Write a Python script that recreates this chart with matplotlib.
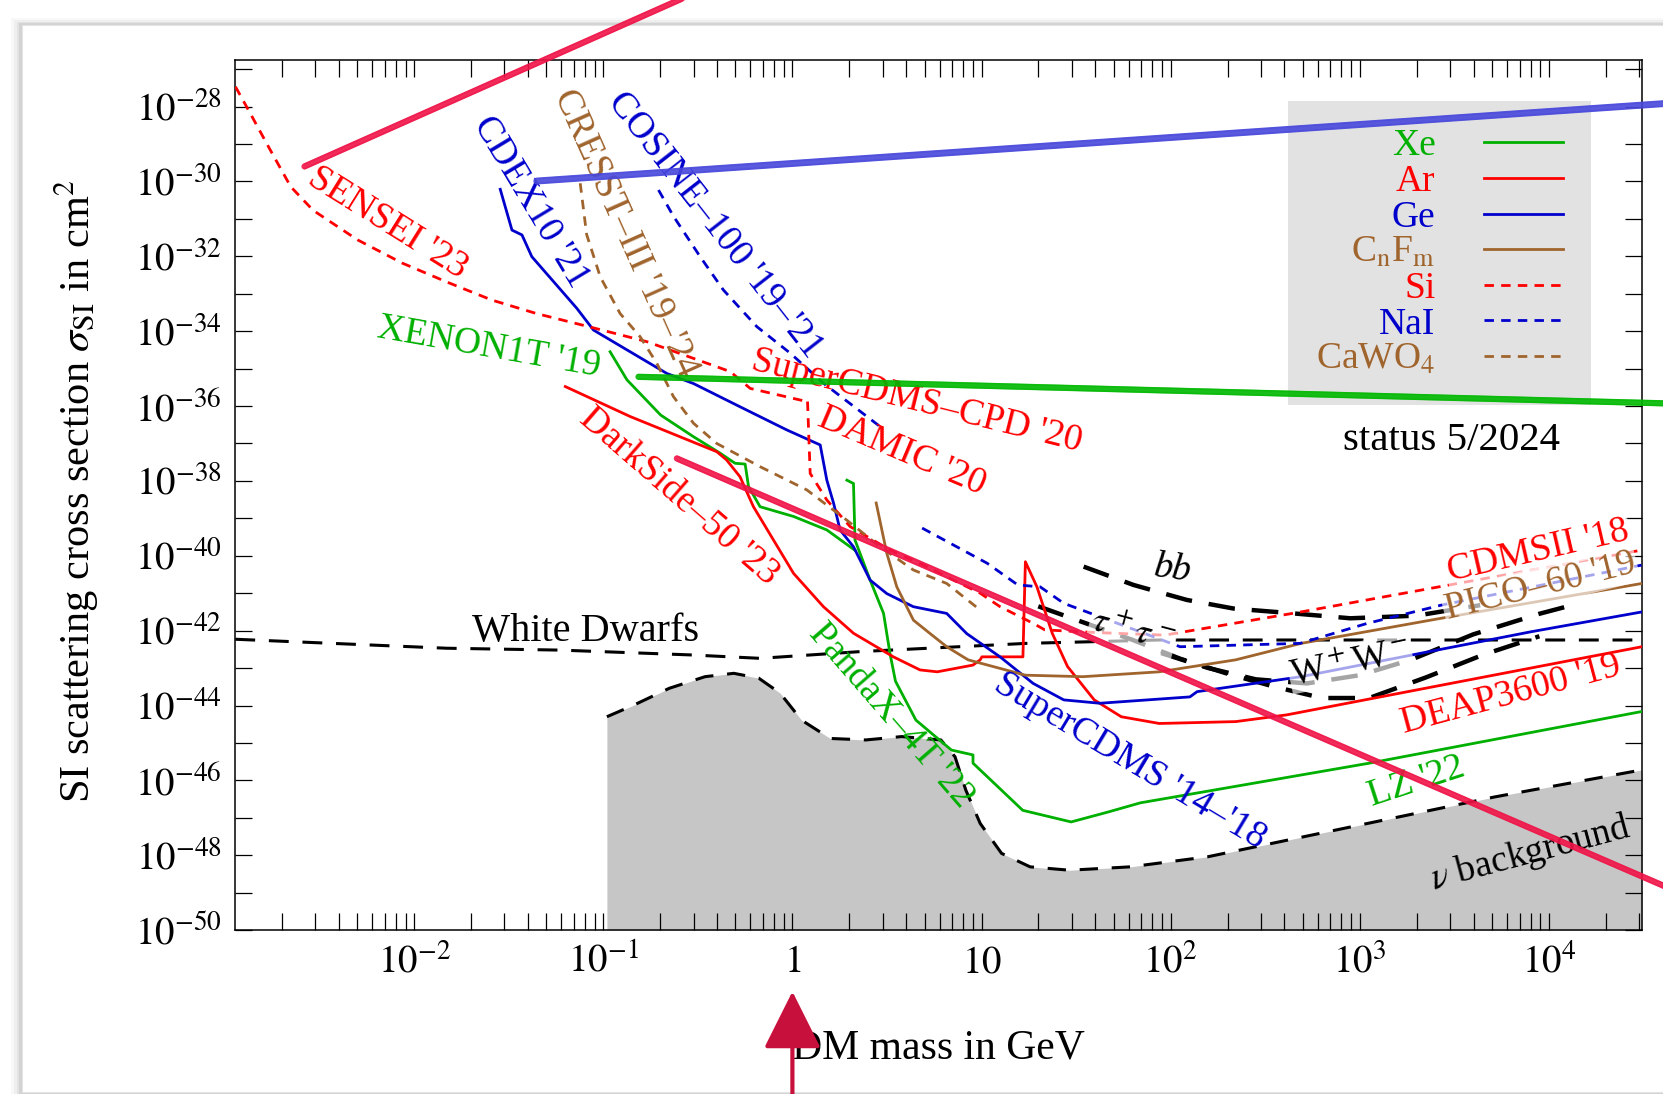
import numpy as np
import matplotlib
matplotlib.use("Agg")
import matplotlib.pyplot as plt
from matplotlib.patches import Rectangle
from matplotlib.ticker import FixedLocator, LogLocator, NullLocator

plt.rcParams['font.family'] = ['Liberation Serif', 'DejaVu Serif']
plt.rcParams['mathtext.fontset'] = 'stix'

# colours (gnuplot style)
C_XE = '#00b000'
C_AR = '#ff0000'
C_GE = '#0000cc'
C_CF = '#a0642d'
C_HAND = '#f01448'
C_ARROW = '#c8103c'

sensei_logm = [-2.945, -2.866, -2.771, -2.653, -2.535, -2.30, -2.064, -1.826, -1.589,
               -1.353, -1.046, -0.770, -0.329, -0.223, 0.076]
sensei_logs = [-27.47, -28.19, -29.07, -30.14, -30.77, -31.56, -32.18, -32.69, -33.17,
               -33.53, -33.92, -34.28, -35.08, -35.53, -35.88]

damic_logm = [0.080, 0.094, 0.182, 0.305, 0.517, 0.711, 0.851, 0.993, 1.098, 1.275,
              1.335, 1.60, 1.969, 2.69, 3.43, 4.49]
damic_logs = [-35.88, -37.80, -38.51, -39.22, -39.85, -40.29, -40.65, -41.0, -41.36, -41.81,
              -41.98, -42.05, -42.12, -41.50, -40.82, -39.85]

ge_logm = [-1.545, -1.483, -1.430, -1.378, -1.140, -1.052, -0.875, -0.664, -0.523, -0.277,
           -0.029, 0.147, 0.182, 0.218, 0.252, 0.323, 0.411, 0.499, 0.639, 0.816, 0.922,
           1.098, 1.273, 1.435, 1.626, 2.102, 2.14, 2.69, 3.317, 3.906, 4.492]
ge_logs = [-30.21, -31.30, -31.43, -32.01, -33.39, -33.97, -34.50, -35.13, -35.40, -36.02,
           -36.64, -37.04, -37.98, -38.60, -39.31, -39.76, -40.65, -41.01, -41.36, -41.54, -42.08,
           -42.70, -43.41, -43.85, -43.94, -43.77, -43.63, -43.23, -42.61, -42.03, -41.50]

cresst_logm = [-1.122, -1.088, -1.016, -0.911, -0.805, -0.717, -0.629, -0.523, -0.40, -0.171,
               0.076, 0.288, 0.464, 0.64, 0.816, 0.993]
cresst_logs = [-30.05, -31.42, -32.55, -33.53, -34.15, -34.86, -35.75, -36.46, -37.0, -37.62,
               -38.24, -39.05, -39.76, -40.38, -40.74, -41.45]

cosine_logm = [-0.708, -0.629, -0.488, -0.365, -0.188, -0.011, 0.164, 0.464]
cosine_logs = [-30.23, -30.93, -32.01, -32.90, -33.88, -34.59, -35.39, -36.55]

nai_logm = [0.686, 1.03, 1.192, 1.31, 1.435, 1.626, 2.05, 2.685, 3.037, 3.43, 4.49]
nai_logs = [-39.26, -40.20, -40.78, -40.83, -41.27, -41.63, -42.43, -42.34, -41.81, -41.32, -40.25]

xenon1t_logm = [-0.964, -0.875, -0.697, -0.523, -0.382, -0.303, -0.25, -0.232, -0.171,
                0.006, 0.182, 0.305, 0.33]
xenon1t_logs = [-34.55, -35.30, -36.24, -36.82, -37.26, -37.53, -37.55, -38.15, -38.69,
                -38.95, -39.31, -39.76, -39.85]

pandax_logm = [0.288, 0.323, 0.331, 0.411, 0.482, 0.516, 0.545, 0.653, 0.841, 0.955, 0.955,
               1.218, 1.474, 1.673, 1.84, 3.051, 4.492]
pandax_logs = [-37.98, -38.07, -39.58, -40.65, -41.54, -42.61, -43.35, -44.39, -45.19, -45.32,
               -45.54, -46.80, -47.11, -46.84, -46.60, -45.54, -44.16]

ar_logm = [-1.201, -0.858, -0.40, -0.348, -0.277, -0.206, -0.10, 0.006, 0.164, 0.323, 0.534,
           0.675, 0.766, 0.955, 0.993, 1.002, 1.219, 1.232, 1.293, 1.374, 1.455, 1.596, 1.739,
           1.94, 2.344, 2.614, 4.492]
ar_logs = [-35.48, -36.28, -37.22, -37.44, -37.89, -38.69, -39.58, -40.47, -41.36, -42.07, -42.70,
           -43.05, -43.10, -42.92, -42.78, -42.70, -42.70, -40.16, -40.83, -42.07, -42.96, -43.85,
           -44.30, -44.48, -44.43, -44.25, -42.43]

pico_logm = [0.443, 0.499, 0.552, 0.64, 0.726, 0.816, 0.929, 1.232, 1.536, 1.94, 2.344, 2.69,
             3.43, 4.492]
pico_logs = [-38.59, -39.93, -40.83, -41.72, -42.07, -42.43, -42.78, -43.19, -43.23, -43.10,
             -42.78, -42.34, -41.67, -40.74]

wd_logm = [-2.946, -1.829, -1.228, -0.531, -0.171, 0.358, 1.239, 1.94, 4.492]
wd_logs = [-42.23, -42.47, -42.52, -42.65, -42.74, -42.56, -42.34, -42.25, -42.25]

nu_logm = [-0.981, -0.839, -0.651, -0.462, -0.31, -0.178, -0.065, 0.048, 0.20, 0.388, 0.578,
           0.785, 0.86, 0.917, 0.993, 1.106, 1.257, 1.465, 1.786, 2.197, 2.956, 3.716, 4.492]
nu_logs = [-44.30, -43.99, -43.54, -43.23, -43.14, -43.27, -43.67, -44.39, -44.88, -44.92, -44.83,
           -44.92, -45.37, -46.26, -47.15, -47.95, -48.31, -48.40, -48.31, -48.04, -47.24, -46.44,
           -45.72]

bb_logm = [1.54, 1.804, 2.086, 2.333, 2.65, 2.95, 3.30, 3.637]
bb_logs = [-40.29, -40.78, -41.18, -41.41, -41.54, -41.67, -41.60, -41.32]

tau_logm = [1.30, 1.55, 1.80, 2.05, 2.30, 2.55, 2.80, 3.05, 3.35, 3.65, 3.95]
tau_logs = [-41.35, -41.80, -42.25, -42.75, -43.15, -43.50, -43.80, -43.80, -43.25, -42.65, -42.15]

ww_logm = [1.95, 2.20, 2.45, 2.72, 3.00, 3.27, 3.60, 3.95, 4.10]
ww_logs = [-42.60, -43.00, -43.30, -43.41, -43.19, -42.78, -42.10, -41.55, -41.35]

# hand-drawn overlay strokes (log10 coordinates)
hand_red1_logm, hand_red1_logs = [-2.58, -0.50], [-29.60, -24.93]
hand_blue_logm, hand_blue_logs = [-1.352, 4.70], [-29.99, -27.89]
hand_green_logm, hand_green_logs = [-0.814, 4.70], [-35.22, -35.94]
hand_red2_logm, hand_red2_logs = [-0.611, 4.70], [-37.40, -49.02]
arrow_logm, arrow_tip_logs, arrow_tail_logs = 0.0, -51.64, -54.9

# labels
lab_text = ["SENSEI '23", "CDEX10 '21", "CRESST–III '19–'24", "COSINE–100 '19–'21",
            "XENON1T '19", "SuperCDMS–CPD '20", "DAMIC '20", "DarkSide–50 '23",
            "White Dwarfs", "PandaX–4T '22", "SuperCDMS '14–'18", "LZ '22",
            r"$\nu$ background", "DEAP3600 '19"]
lab_logm = [-2.142, -1.385, -0.881, -0.409, -1.604, 0.656, 0.578, -0.60, -1.094, 0.522,
            1.783, 3.298, 3.903, 3.797]
lab_logs = [-31.10, -30.54, -31.39, -31.16, -34.45, -35.87, -37.20, -38.41, -42.01, -44.28,
            -45.50, -46.03, -47.96, -43.71]
lab_rot = [-32, -59, -66, -52, -10, -14, -23, -41, 0, -49, -31, 18, 15, 15]
lab_col = [C_AR, C_GE, C_CF, C_GE, C_XE, C_AR, C_AR, C_AR, 'black', C_XE, C_GE, C_XE,
           'black', C_AR]
lab_size = [27, 27, 27, 27, 27, 27, 27, 27, 29, 27, 27, 27, 27, 27]

# labels with translucent white boxes
boxlab_text = ["CDMSII '18", "PICO–60 '19", r"$\tau^+\tau^-$", r"W$^+$W$^-$"]
boxlab_logm = [3.943, 3.954, 1.80, 2.95]
boxlab_logs = [-39.89, -40.82, -42.01, -42.86]
boxlab_rot = [13, 14, -15, 12]
boxlab_col = [C_AR, C_CF, 'black', 'black']

xtick_vals = [1e-2, 1e-1, 1, 10, 1e2, 1e3, 1e4]
xtick_labels = ['$10^{-2}$', '$10^{-1}$', '$1$', '$10$', '$10^{2}$', '$10^{3}$', '$10^{4}$']
ytick_exps = list(range(-50, -26))

legend_labels = ['Xe', 'Ar', 'Ge', r'C$_\mathrm{n}$F$_\mathrm{m}$', 'Si', 'NaI', r'CaWO$_4$']


def arr(v):
    return 10.0 ** np.asarray(v, dtype=float)


fig = plt.figure(figsize=(16.63, 10.94), dpi=100)
fig.patch.set_facecolor('white')

# slide card with soft shadow
for i, a in enumerate([0.05, 0.07, 0.10, 0.16]):
    d = (4 - i) * 0.0016
    fig.patches.append(Rectangle((0.0132 - d, 0.0018 - d), 1.3, 0.9753 + 2 * d,
                                 transform=fig.transFigure, fc='#808080', ec='none',
                                 alpha=a, zorder=-3))
fig.patches.append(Rectangle((0.0132, 0.0018), 1.3, 0.9753, transform=fig.transFigure,
                             fc='white', ec='#e4e4e4', lw=0.8, zorder=-2))

ax = fig.add_axes([0.1416, 0.1498, 0.8457, 0.7949])
ax.set_facecolor('none')
ax.set_xscale('log')
ax.set_yscale('log')
ax.set_xlim(10 ** -2.945, 10 ** 4.492)
ax.set_ylim(1e-50, 10 ** -26.77)

# neutrino floor
nu_m, nu_s = arr(nu_logm), arr(nu_logs)
ax.fill_between(nu_m, nu_s, 1e-50, color='#c6c6c6', lw=0, zorder=1)
ax.plot(nu_m, nu_s, color='black', lw=2.2, dashes=(6, 4.5), zorder=2)

ax.plot(arr(wd_logm), arr(wd_logs), color='black', lw=2.2, dashes=(6.5, 4.5), zorder=2)
ax.plot(arr(bb_logm), arr(bb_logs), color='black', lw=3.2, dashes=(6, 3.8), zorder=2)
ax.plot(arr(tau_logm), arr(tau_logs), color='black', lw=3.2, dashes=(6, 3.8), zorder=2)
ax.plot(arr(ww_logm), arr(ww_logs), color='black', lw=3.2, dashes=(6, 3.8), zorder=2)

lw = 2.0
sd = (3.4, 2.6)
xe_line, = ax.plot(arr(pandax_logm), arr(pandax_logs), color=C_XE, lw=lw, zorder=3)
ax.plot(arr(xenon1t_logm), arr(xenon1t_logs), color=C_XE, lw=lw, zorder=3)
ar_line, = ax.plot(arr(ar_logm), arr(ar_logs), color=C_AR, lw=lw, zorder=3)
ge_line, = ax.plot(arr(ge_logm), arr(ge_logs), color=C_GE, lw=lw, zorder=3)
cf_line, = ax.plot(arr(pico_logm), arr(pico_logs), color=C_CF, lw=lw, zorder=3)
si_line, = ax.plot(arr(sensei_logm), arr(sensei_logs), color=C_AR, lw=lw, dashes=sd, zorder=3)
ax.plot(arr(damic_logm), arr(damic_logs), color=C_AR, lw=lw, dashes=sd, zorder=3)
nai_line, = ax.plot(arr(cosine_logm), arr(cosine_logs), color=C_GE, lw=lw, dashes=sd, zorder=3)
ax.plot(arr(nai_logm), arr(nai_logs), color=C_GE, lw=lw, dashes=sd, zorder=3)
ca_line, = ax.plot(arr(cresst_logm), arr(cresst_logs), color=C_CF, lw=lw, dashes=sd, zorder=3)

fs = 27
for t, m, s, r, c, z in zip(lab_text, lab_logm, lab_logs, lab_rot, lab_col, lab_size):
    ax.text(10 ** m, 10 ** s, t, rotation=r, color=c, fontsize=z, ha='center', va='center',
            rotation_mode='anchor', zorder=4)
for t, m, s, r, c in zip(boxlab_text, boxlab_logm, boxlab_logs, boxlab_rot, boxlab_col):
    ax.text(10 ** m, 10 ** s, t, rotation=r, color=c, fontsize=fs, ha='center', va='center',
            rotation_mode='anchor', zorder=4,
            bbox=dict(boxstyle='square,pad=0.05', fc='white', ec='none', alpha=0.65))
ax.text(10 ** 2.008, 10 ** -40.37, 'bb', fontstyle='italic', fontsize=fs, rotation=-8,
        ha='center', va='center', zorder=4)
ax.text(10 ** 3.483, 10 ** -36.91, 'status 5/2024', fontsize=29.5, ha='center', va='center',
        zorder=4)

leg = ax.legend([xe_line, ar_line, ge_line, cf_line, si_line, nai_line, ca_line], legend_labels,
                loc='upper right', bbox_to_anchor=(0.9639, 0.9537), markerfirst=False,
                labelcolor='linecolor', facecolor='#e2e2e2', edgecolor='none', framealpha=1,
                fancybox=False, fontsize=27, handlelength=2.1, handletextpad=1.3,
                labelspacing=0.03, borderpad=0.75, borderaxespad=0)
leg.set_zorder(5)

# axes / ticks
ax.xaxis.set_major_locator(FixedLocator(xtick_vals))
ax.set_xticklabels(xtick_labels)
ax.xaxis.set_minor_locator(LogLocator(base=10, subs=np.arange(2, 10), numticks=60))
ax.yaxis.set_major_locator(FixedLocator([10.0 ** e for e in ytick_exps]))
ax.set_yticklabels(['$10^{%d}$' % e if e % 2 == 0 else '' for e in ytick_exps])
ax.yaxis.set_minor_locator(NullLocator())
ax.tick_params(axis='both', which='both', direction='in', top=True, right=True,
               length=12, width=0.9, labelsize=28)
ax.tick_params(axis='x', pad=10)
ax.tick_params(axis='y', pad=10)
for sp in ax.spines.values():
    sp.set_linewidth(1.1)

ax.set_ylabel(r'SI scattering cross section $\sigma_\mathrm{SI}$ in cm$^2$', fontsize=30.5,
              va='center')
ax.yaxis.set_label_coords(-0.113, 0.505)
ax.set_xlabel('DM mass in GeV', fontsize=30, va='center')
ax.xaxis.set_label_coords(0.5, -0.1355)

# hand-drawn overlay
for lm, ls, col, w in [(hand_red1_logm, hand_red1_logs, C_HAND, 4.5),
                       (hand_blue_logm, hand_blue_logs, '#4848dc', 5.0),
                       (hand_green_logm, hand_green_logs, '#00b800', 4.5),
                       (hand_red2_logm, hand_red2_logs, C_HAND, 4.5)]:
    x, y = arr(lm), arr(ls)
    ax.plot(x, y, color=col, lw=w, alpha=0.9, solid_capstyle='round', clip_on=False, zorder=8)
    for off in (-0.06, 0.06):
        ax.plot(x, y * 10 ** off, color=col, lw=1.0, alpha=0.55, clip_on=False, zorder=8)

ax.annotate('', xy=(10 ** arrow_logm, 10 ** arrow_tip_logs),
            xytext=(10 ** arrow_logm, 10 ** arrow_tail_logs),
            arrowprops=dict(arrowstyle='-|>,head_length=1.8,head_width=0.9', lw=3,
                            color=C_ARROW, mutation_scale=20, shrinkA=0, shrinkB=0),
            annotation_clip=False, zorder=9)

fig.savefig('out.png', dpi=100)
